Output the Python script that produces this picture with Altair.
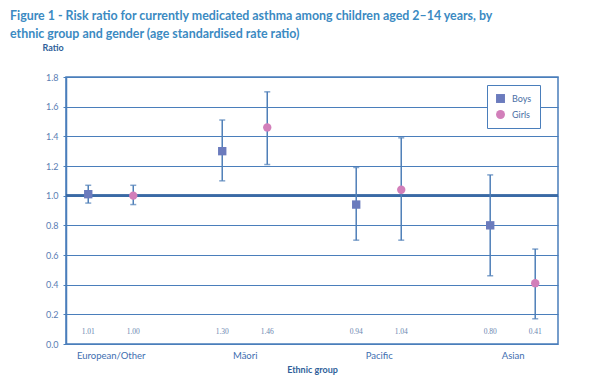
import altair as alt
import pandas as pd

groups = ["European/Other", "Māori", "Pacific", "Asian"]
boys_rr = [1.01, 1.30, 0.94, 0.80]
boys_lo = [0.95, 1.10, 0.70, 0.46]
boys_hi = [1.07, 1.51, 1.19, 1.14]
girls_rr = [1.00, 1.46, 1.04, 0.41]
girls_lo = [0.94, 1.21, 0.70, 0.17]
girls_hi = [1.07, 1.70, 1.39, 0.64]
genders = ["Boys", "Girls"]
y_ticks = [0.0, 0.2, 0.4, 0.6, 0.8, 1.0, 1.2, 1.4, 1.6, 1.8]

rows = []
for i, g in enumerate(groups):
    rows.append({"group": g, "gi": i, "gender": "Boys", "rr": boys_rr[i], "lo": boys_lo[i], "hi": boys_hi[i]})
    rows.append({"group": g, "gi": i, "gender": "Girls", "rr": girls_rr[i], "lo": girls_lo[i], "hi": girls_hi[i]})
df = pd.DataFrame(rows)

LINE = "#4a7ebb"
LABEL = "#5a7db3"
DARK = "#2f5f9a"

label_expr = "[" + ",".join("'" + g + "'" for g in groups) + "][datum.value]"

x_scale = alt.Scale(domain=[-0.334, 3.338], nice=False, zero=False)
x_axis = alt.Axis(values=[0, 1, 2, 3], labelExpr=label_expr, grid=False, ticks=False,
                  domain=False, labelFontSize=9.5, labelColor="#3e6eb0", labelPadding=6,
                  title="Ethnic group", titleFontSize=9, titleFontWeight="bold",
                  titleColor=DARK, titleY=21, titleBaseline="top")
y_scale = alt.Scale(domain=[0, 1.8], nice=False)
y_axis = alt.Axis(values=y_ticks, format=".1f", grid=True, gridColor=LINE, gridWidth=1.2,
                  domainColor=LINE, domainWidth=1.5, tickColor=LINE, tickSize=3,
                  labelColor=LABEL, labelFontSize=9, labelPadding=5, labelOverlap=False,
                  title="Ratio", titleAngle=0, titleAlign="left", titleBaseline="middle",
                  titleX=-24, titleY=-30, titleFontSize=9, titleFontWeight="bold",
                  titleColor=DARK)


def X():
    return alt.X("xpos:Q", scale=x_scale, axis=x_axis, title="Ethnic group")


def Y(field):
    return alt.Y(field, scale=y_scale, axis=y_axis, title="Ratio")


base = alt.Chart(df).transform_calculate(
    xpos="datum.gi + (datum.gender == 'Boys' ? -0.168 : 0.168)"
)

ref = base.transform_calculate(ref="1.0").mark_rule(color="#3a6aa5", strokeWidth=1.8).encode(
    y=Y("ref:Q")
)

rules = base.mark_rule(color="#4f7fb8", strokeWidth=1.5).encode(
    x=X(), y=Y("lo:Q"), y2="hi:Q"
)
cap_lo = base.mark_tick(color="#4f7fb8", thickness=1.5, size=6, orient="horizontal").encode(
    x=X(), y=Y("lo:Q")
)
cap_hi = base.mark_tick(color="#4f7fb8", thickness=1.5, size=6, orient="horizontal").encode(
    x=X(), y=Y("hi:Q")
)

leg = alt.Legend(title=None, orient="none", legendX=421, legendY=8,
                 padding=8, strokeColor=LINE, fillColor="white",
                 labelFontSize=9, labelColor="#4a6fa5", symbolSize=80,
                 rowPadding=5, labelOffset=6)

points = base.mark_point(filled=True, opacity=1, size=70).encode(
    x=X(),
    y=Y("rr:Q"),
    color=alt.Color("gender:N", scale=alt.Scale(domain=genders, range=["#6b7bbd", "#d27fba"]),
                    legend=leg),
    shape=alt.Shape("gender:N", scale=alt.Scale(domain=genders, range=["square", "circle"]),
                    legend=leg),
)

labels = base.transform_calculate(ly="0.08", txt="format(datum.rr, '.2f')").mark_text(
    fontSize=7.5, color="#6a86b0", font="Liberation Serif"
).encode(
    x=X(), y=Y("ly:Q"), text="txt:N"
)

chart = alt.layer(ref, rules, cap_lo, cap_hi, points, labels).properties(
    width=492, height=267,
    title=alt.TitleParams(
        ["Figure 1 - Risk ratio for currently medicated asthma among children aged 2–14 years, by",
         "ethnic group and gender (age standardised rate ratio)"],
        anchor="start", frame="group", dx=-56, fontSize=12.4, fontWeight="bold",
        color="#3b8ac2", lineHeight=18, offset=3),
    autosize=alt.AutoSizeParams(type="none"),
    padding={"left": 58, "top": 69, "right": 36, "bottom": 34},
).configure(font="Lato").configure_view(stroke=LINE, strokeWidth=1.5)

chart.save("out.html", embed_options={"renderer": "svg", "actions": False})
